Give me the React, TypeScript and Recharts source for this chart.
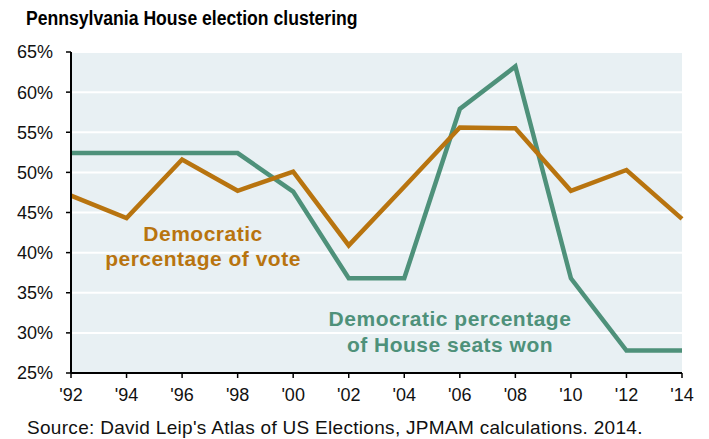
import { CartesianGrid, Line, LineChart, XAxis, YAxis } from 'recharts'

const years = ["'92", "'94", "'96", "'98", "'00", "'02", "'04", "'06", "'08", "'10", "'12", "'14"]
const voteShare = [47.1, 44.3, 51.6, 47.7, 50.1, 40.9, 48.2, 55.6, 55.5, 47.7, 50.3, 44.2]
const seatShare = [52.4, 52.4, 52.4, 52.4, 47.6, 36.8, 36.8, 57.9, 63.2, 36.8, 27.8, 27.8]
const yTicks = [25, 30, 35, 40, 45, 50, 55, 60, 65]

const ORANGE = '#B8740F'
const GREEN = '#4E917A'
const FONT = '"Liberation Sans", Arial, sans-serif'

export default function App() {
  const data = years.map((y, i) => ({ year: y, vote: voteShare[i], seats: seatShare[i] }))

  return (
    <div style={{ position: 'relative', width: 709, height: 439, fontFamily: FONT, background: '#fff' }}>
      <style>{'body{margin:0}'}</style>
      <div
        style={{
          position: 'absolute',
          left: 26,
          top: 7,
          fontSize: 20,
          fontWeight: 700,
          color: '#000',
          whiteSpace: 'nowrap',
          transform: 'scaleX(0.88)',
          transformOrigin: 'left center',
        }}
      >
        Pennsylvania House election clustering
      </div>
      <LineChart width={709} height={439} data={data} margin={{ top: 52, right: 27, left: 0, bottom: 0 }}>
        <CartesianGrid vertical={false} fill="#E8F0F3" stroke="#fff" strokeWidth={2} />
        <XAxis
          dataKey="year"
          height={66}
          axisLine={{ stroke: '#000', strokeWidth: 2 }}
          tickLine={{ stroke: '#000', strokeWidth: 1.5 }}
          tickSize={5}
          tickMargin={10}
          tick={{ fill: '#111', fontSize: 18, fontFamily: FONT }}
          interval={0}
        />
        <YAxis
          domain={[25, 65]}
          ticks={yTicks}
          width={71}
          axisLine={{ stroke: '#000', strokeWidth: 2 }}
          tickLine={{ stroke: '#000', strokeWidth: 1.5 }}
          tickSize={5}
          tickMargin={13}
          tickFormatter={(v) => `${v}%`}
          tick={{ fill: '#111', fontSize: 18, fontFamily: FONT }}
          interval={0}
        />
        <Line dataKey="seats" stroke={GREEN} strokeWidth={4.5} dot={false} isAnimationActive={false} />
        <Line dataKey="vote" stroke={ORANGE} strokeWidth={4.5} dot={false} isAnimationActive={false} />
      </LineChart>
      <div
        style={{
          position: 'absolute',
          left: 83,
          top: 221,
          width: 240,
          textAlign: 'center',
          color: ORANGE,
          fontSize: 21,
          fontWeight: 700,
          letterSpacing: 0.5,
          lineHeight: '25px',
        }}
      >
        Democratic
        <br />
        percentage of vote
      </div>
      <div
        style={{
          position: 'absolute',
          left: 300,
          top: 306,
          width: 300,
          textAlign: 'center',
          color: GREEN,
          fontSize: 21,
          fontWeight: 700,
          letterSpacing: 0.5,
          lineHeight: '26px',
        }}
      >
        Democratic percentage
        <br />
        of House seats won
      </div>
      <div
        style={{
          position: 'absolute',
          left: 27,
          top: 417,
          fontSize: 19,
          letterSpacing: 0.3,
          color: '#111',
          whiteSpace: 'nowrap',
        }}
      >
        Source: David Leip's Atlas of US Elections, JPMAM calculations. 2014.
      </div>
    </div>
  )
}
